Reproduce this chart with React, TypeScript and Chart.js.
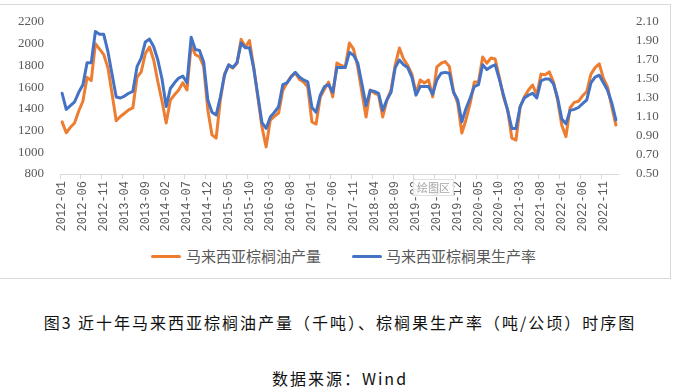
import React, { useEffect, useRef } from "react";
import { Chart, registerables } from "chart.js";

Chart.register(...registerables);

// ---- categories (monthly, 2012-01 .. 2023-02) ----
const START_YEAR = 2012;
const MONTH_COUNT = 134;
const months: string[] = [];
for (let i = 0; i < MONTH_COUNT; i++) {
  const y = START_YEAR + Math.floor(i / 12);
  const m = (i % 12) + 1;
  months.push(`${y}-${m < 10 ? "0" + m : m}`);
}

const SERIES_NAMES = ["马来西亚棕榈油产量", "马来西亚棕榈果生产率"];

// 马来西亚棕榈油产量（千吨）
const production: number[] = [
  1280, 1180, 1230, 1270, 1380, 1470, 1690, 1660, 2000, 1950, 1900, 1780,
  1540, 1290, 1330, 1360, 1390, 1410, 1690, 1740, 1910, 1970, 1850, 1650,
  1470, 1270, 1480, 1530, 1574, 1640, 1574, 1990, 1900, 1880, 1790, 1390,
  1160, 1130, 1480, 1720, 1800, 1776, 1820, 2040, 1970, 2030, 1786, 1510,
  1233, 1050, 1297, 1330, 1362, 1570, 1638, 1700, 1730, 1670, 1647, 1600,
  1279, 1260, 1510, 1580, 1647, 1510, 1822, 1800, 1786, 2006, 1950, 1786,
  1550, 1325, 1574, 1545, 1528, 1325, 1480, 1574, 1804, 1960, 1859, 1800,
  1720, 1540, 1666, 1638, 1666, 1510, 1786, 1820, 1835, 1790, 1560, 1454,
  1178, 1300, 1450, 1647, 1647, 1878, 1820, 1868, 1859, 1690, 1510, 1390,
  1131, 1113, 1417, 1510, 1574, 1620, 1528, 1720, 1715, 1740, 1650, 1480,
  1250, 1144, 1410, 1460, 1470, 1520, 1560, 1720, 1780, 1815, 1680, 1600,
  1420, 1250,
];

// 马来西亚棕榈果生产率（吨/公顷）
const yieldRate: number[] = [
  1.35, 1.18, 1.22, 1.26, 1.36, 1.44, 1.67, 1.67, 2.0, 1.97, 1.97, 1.79,
  1.55, 1.31, 1.3, 1.32, 1.35, 1.37, 1.63, 1.72, 1.89, 1.92, 1.84, 1.7,
  1.5, 1.21, 1.4, 1.46, 1.51, 1.53, 1.46, 1.94, 1.81, 1.8, 1.68, 1.28,
  1.15, 1.12, 1.31, 1.54, 1.65, 1.62, 1.67, 1.88, 1.83, 1.83, 1.62, 1.33,
  1.04, 0.98, 1.1, 1.15, 1.21, 1.44, 1.46, 1.52, 1.57, 1.52, 1.49, 1.47,
  1.2, 1.15, 1.33, 1.42, 1.44, 1.36, 1.62, 1.62, 1.62, 1.78, 1.75, 1.67,
  1.45, 1.22, 1.38, 1.37, 1.35, 1.17, 1.28, 1.36, 1.62, 1.7, 1.65, 1.62,
  1.52, 1.33, 1.42, 1.42, 1.42, 1.34, 1.49, 1.56, 1.57, 1.56, 1.36, 1.28,
  1.05, 1.19, 1.3, 1.42, 1.44, 1.65, 1.6, 1.63, 1.65, 1.5, 1.33, 1.17,
  0.98, 0.98, 1.21, 1.3, 1.33, 1.35, 1.3, 1.48, 1.5, 1.5, 1.45, 1.3,
  1.08, 1.03, 1.17, 1.18, 1.2, 1.24, 1.28, 1.46, 1.52, 1.54, 1.46, 1.38,
  1.25, 1.07,
];

const LEFT_MIN = 800;
const LEFT_MAX = 2200;
const LEFT_STEP = 200;
const RIGHT_MIN = 0.5;
const RIGHT_MAX = 2.1;
const RIGHT_STEP = 0.2;
const LABEL_EVERY = 5;

const ORANGE = "#ED7D31";
const BLUE = "#4472C4";
const AXIS_TEXT = "#595959";
const AXIS_LINE = "#d9d9d9";

const CAPTION = "图3 近十年马来西亚棕榈油产量（千吨）、棕榈果生产率（吨/公顷）时序图";
const SOURCE = "数据来源：Wind";
const TIP = "绘图区";

export default function App() {
  const ref = useRef<HTMLCanvasElement>(null);

  useEffect(() => {
    document.body.style.margin = "0";
    const chart = new Chart(ref.current as HTMLCanvasElement, {
      type: "line",
      data: {
        labels: months,
        datasets: [
          {
            label: SERIES_NAMES[0],
            data: production,
            yAxisID: "y",
            borderColor: ORANGE,
            backgroundColor: ORANGE,
            borderWidth: 3,
            pointRadius: 0,
            tension: 0,
            order: 1,
            borderJoinStyle: "round",
            borderCapStyle: "round",
          },
          {
            label: SERIES_NAMES[1],
            data: yieldRate,
            yAxisID: "y1",
            borderColor: BLUE,
            backgroundColor: BLUE,
            borderWidth: 3,
            pointRadius: 0,
            tension: 0,
            order: 0,
            borderJoinStyle: "round",
            borderCapStyle: "round",
          },
        ],
      },
      options: {
        responsive: false,
        animation: false,
        devicePixelRatio: 1,
        layout: { padding: { top: 22, left: 0, right: 0, bottom: 0 } },
        plugins: { legend: { display: false }, tooltip: { enabled: false } },
        scales: {
          x: {
            type: "category",
            offset: true,
            grid: {
              display: true,
              drawOnChartArea: false,
              drawTicks: true,
              tickLength: 5,
              offset: true,
              color: (ctx: any) =>
                ctx.index % LABEL_EVERY === 0 ? AXIS_LINE : "rgba(0,0,0,0)",
            },
            border: { display: true, color: AXIS_LINE, width: 1 },
            ticks: {
              autoSkip: false,
              maxRotation: 90,
              minRotation: 90,
              padding: 2,
              color: AXIS_TEXT,
              font: { family: "Liberation Mono", size: 12 },
              callback: function (this: any, v: any, i: number) {
                return i % LABEL_EVERY === 0 ? this.getLabelForValue(v) : "";
              },
            },
            afterFit: (s: any) => {
              s.height = 66;
            },
          },
          y: {
            position: "left",
            min: LEFT_MIN,
            max: LEFT_MAX,
            grid: { display: false },
            border: { display: false },
            ticks: {
              stepSize: LEFT_STEP,
              padding: 8,
              color: AXIS_TEXT,
              font: { family: "Liberation Serif", size: 13 },
              callback: (v: any) => String(Math.round(Number(v))),
            },
            afterFit: (s: any) => {
              s.width = 60;
            },
          },
          y1: {
            position: "right",
            min: RIGHT_MIN,
            max: RIGHT_MAX,
            grid: { display: false },
            border: { display: false },
            ticks: {
              stepSize: RIGHT_STEP,
              padding: 10,
              color: AXIS_TEXT,
              font: { family: "Liberation Serif", size: 13 },
              callback: (v: any) => Number(v).toFixed(2),
            },
            afterFit: (s: any) => {
              s.width = 62;
            },
          },
        },
      },
    });
    return () => chart.destroy();
  }, []);

  const legendText: React.CSSProperties = {
    position: "absolute",
    top: 247,
    fontFamily: "'Noto Sans CJK SC', sans-serif",
    fontSize: 15,
    lineHeight: "18px",
    color: AXIS_TEXT,
    whiteSpace: "nowrap",
  };
  const legendLine = (color: string, left: number): React.CSSProperties => ({
    position: "absolute",
    left,
    top: 255,
    width: 30,
    height: 3,
    borderRadius: 1.5,
    background: color,
  });

  return (
    <div
      style={{
        position: "fixed",
        left: 0,
        top: 0,
        width: 680,
        height: 392,
        background: "#fff",
        overflow: "hidden",
      }}
    >
      <div
        style={{
          position: "absolute",
          left: -2,
          top: 4,
          width: 673,
          height: 275,
          border: "1px solid #d9d9d9",
          boxSizing: "border-box",
        }}
      />
      <canvas
        ref={ref}
        width={680}
        height={240}
        style={{ position: "absolute", left: 0, top: 0, width: 680, height: 240 }}
      />
      <div
        style={{
          position: "absolute",
          left: 413,
          top: 179,
          padding: "0 3px",
          fontFamily: "'Noto Sans CJK SC', sans-serif",
          fontSize: 11,
          lineHeight: "15px",
          color: "#a6a6a6",
          background: "rgba(255,255,255,0.85)",
          border: "1px solid #e0e0e0",
        }}
      >
        {TIP}
      </div>
      <div style={legendLine(ORANGE, 151)} />
      <div style={{ ...legendText, left: 186 }}>{SERIES_NAMES[0]}</div>
      <div style={legendLine(BLUE, 352)} />
      <div style={{ ...legendText, left: 386 }}>{SERIES_NAMES[1]}</div>
      <div
        style={{
          position: "absolute",
          left: 0,
          width: 680,
          top: 312,
          textAlign: "center",
          fontFamily: "'Noto Sans CJK SC', sans-serif",
          fontSize: 16,
          letterSpacing: 2,
          lineHeight: "20px",
          color: "#111",
          whiteSpace: "nowrap",
        }}
      >
        {CAPTION}
      </div>
      <div
        style={{
          position: "absolute",
          left: 0,
          width: 680,
          top: 368,
          textAlign: "center",
          fontFamily: "'Noto Sans CJK SC', sans-serif",
          fontSize: 16,
          letterSpacing: 2,
          lineHeight: "20px",
          color: "#111",
          whiteSpace: "nowrap",
        }}
      >
        {SOURCE}
      </div>
    </div>
  );
}
